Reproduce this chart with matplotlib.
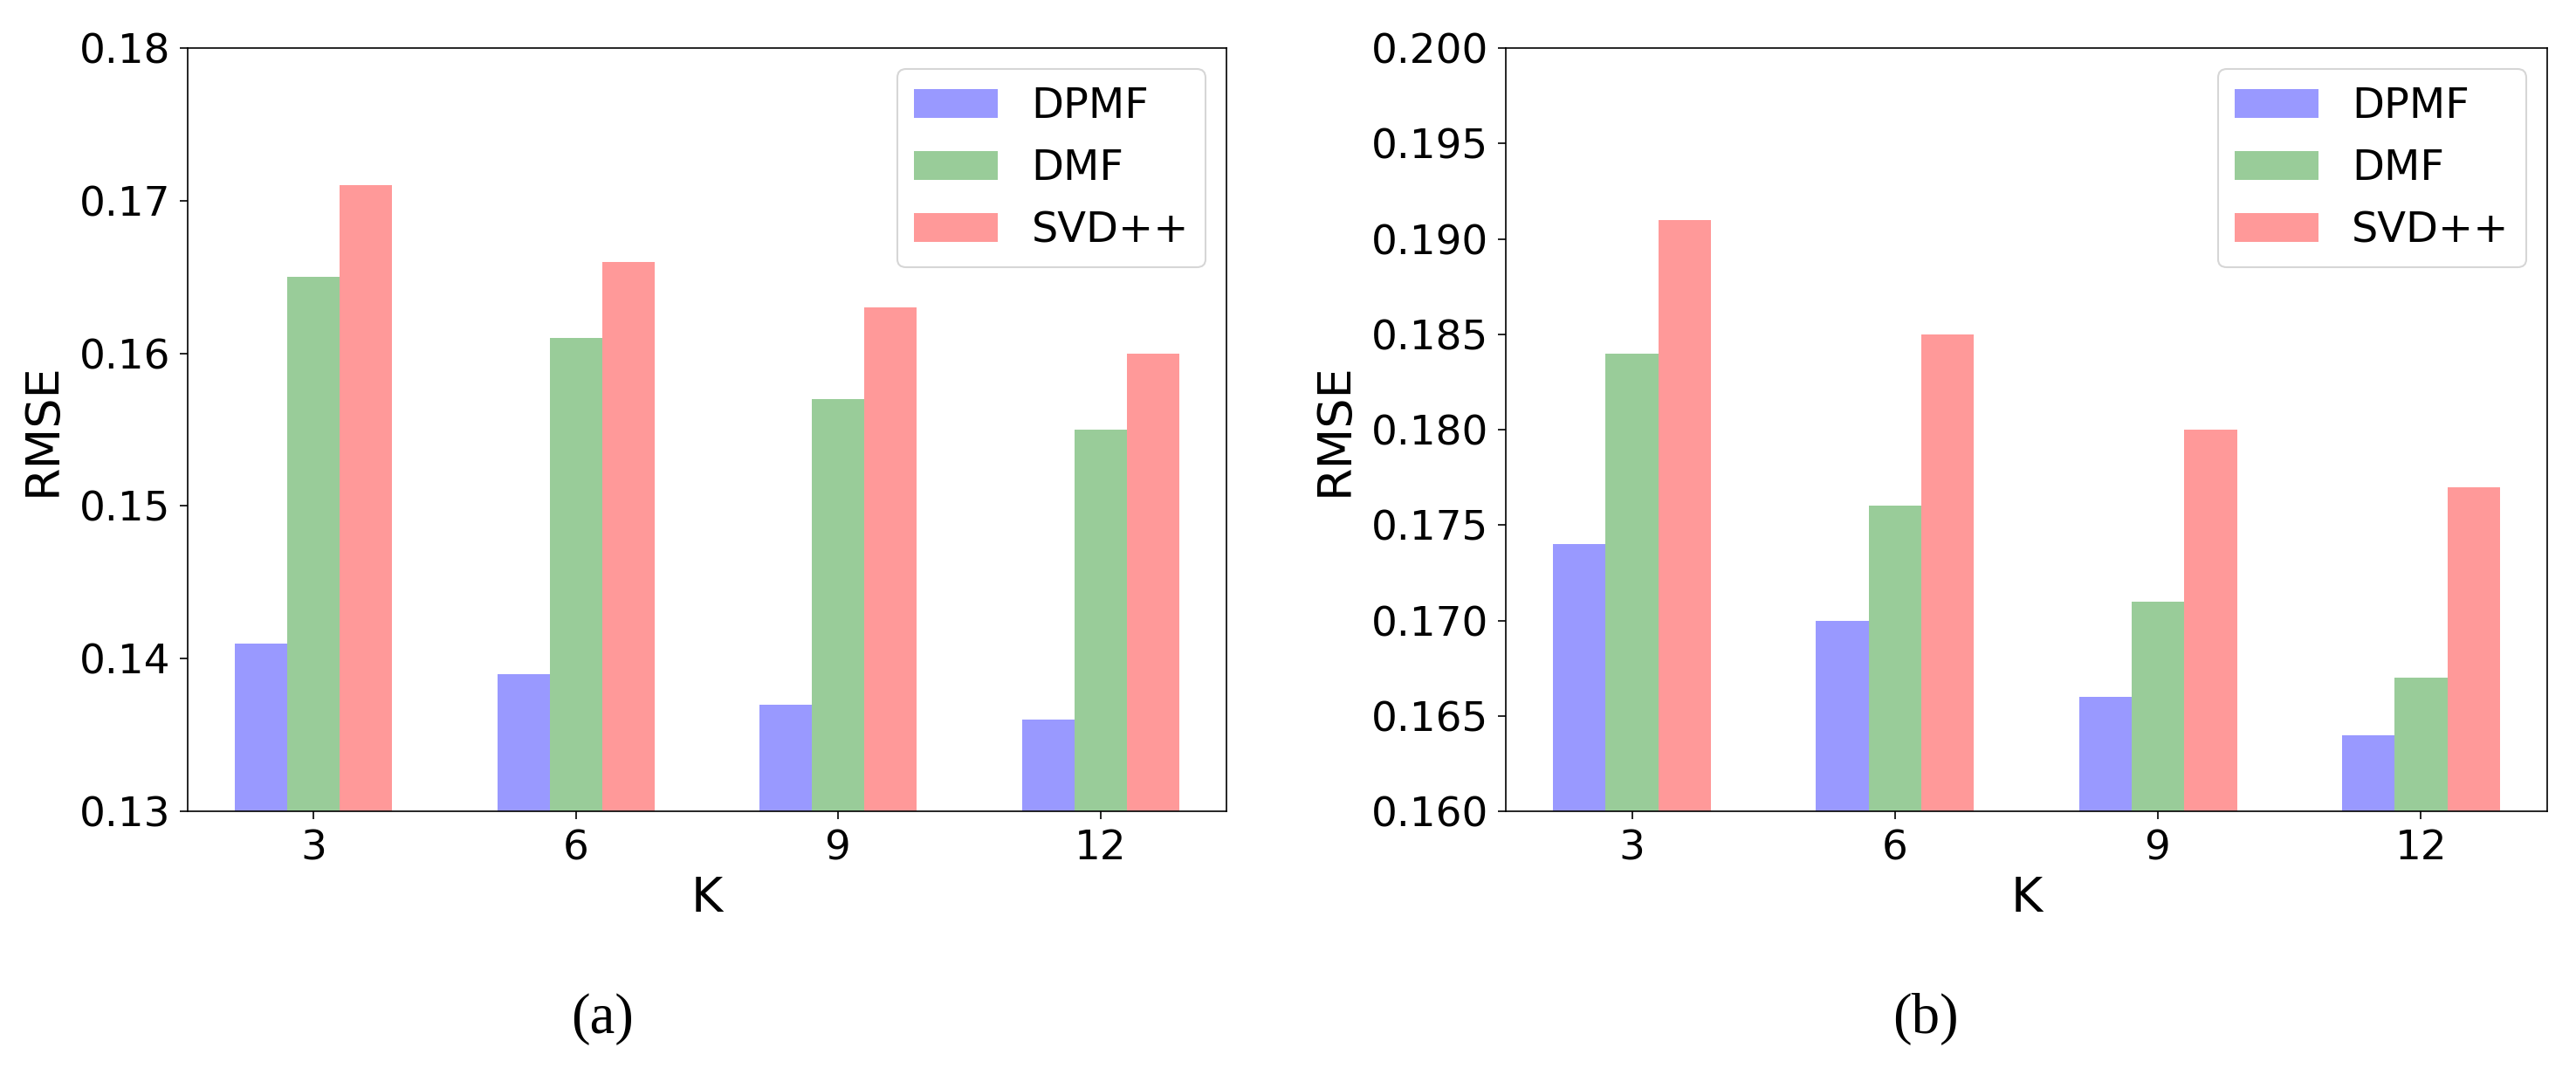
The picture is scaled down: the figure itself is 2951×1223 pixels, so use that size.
import matplotlib
matplotlib.use("Agg")
import matplotlib.pyplot as plt
import numpy as np

K_labels = ["3", "6", "9", "12"]
K_values = [3, 6, 9, 12]
series_names = ["DPMF", "DMF", "SVD++"]

a_dpmf = [0.141, 0.139, 0.137, 0.136]
a_dmf = [0.165, 0.161, 0.157, 0.155]
a_svdpp = [0.171, 0.166, 0.163, 0.160]

b_dpmf = [0.174, 0.170, 0.166, 0.164]
b_dmf = [0.184, 0.176, 0.171, 0.167]
b_svdpp = [0.191, 0.185, 0.180, 0.177]

a_yticks = [0.13, 0.14, 0.15, 0.16, 0.17, 0.18]
b_yticks = [0.160, 0.165, 0.170, 0.175, 0.180, 0.185, 0.190, 0.195, 0.200]

colors = ["b", "g", "r"]
alpha = 0.4
width = 0.6

dpi = 150
fig = plt.figure(figsize=(2951 / dpi, 1223 / dpi), dpi=dpi)

ax_a = fig.add_axes([215 / 2951, 1 - 929 / 1223, 1190 / 2951, 874 / 1223])
ax_b = fig.add_axes([1725 / 2951, 1 - 929 / 1223, 1193 / 2951, 874 / 1223])

x = np.array(K_values, dtype=float)

def draw(ax, data, yticks, fmt, ylim):
    for i, (vals, c, name) in enumerate(zip(data, colors, series_names)):
        ax.bar(x + (i - 1) * width, vals, width, color=c, alpha=alpha, label=name)
    ax.set_ylim(*ylim)
    ax.set_yticks(yticks)
    ax.set_yticklabels([fmt.format(v) for v in yticks])
    ax.set_xticks(x)
    ax.set_xticklabels(K_labels)
    ax.tick_params(labelsize=22.5, length=4.3, pad=5.3)
    ax.set_xlabel("K", fontsize=26.5, labelpad=4)
    ax.set_ylabel("RMSE", fontsize=26, labelpad=7.7)
    ax.legend(fontsize=23, loc="upper right")

draw(ax_a, [a_dpmf, a_dmf, a_svdpp], a_yticks, "{:.2f}", (0.13, 0.18))
draw(ax_b, [b_dpmf, b_dmf, b_svdpp], b_yticks, "{:.3f}", (0.160, 0.200))

fig.text(690 / 2951, 1 - 1167 / 1223, "(a)", ha="center", va="center",
         fontsize=31, family=["Liberation Serif", "DejaVu Serif"])
fig.text(2206 / 2951, 1 - 1167 / 1223, "(b)", ha="center", va="center",
         fontsize=31, family=["Liberation Serif", "DejaVu Serif"])

fig.savefig("out.png", dpi=dpi)
